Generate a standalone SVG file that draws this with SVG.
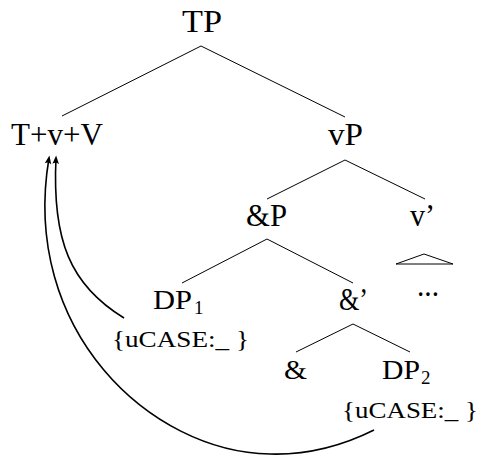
<svg xmlns="http://www.w3.org/2000/svg" width="481" height="457" viewBox="0 0 481 457">
<style>
text{font-family:"Liberation Serif","Times New Roman",serif;fill:#000}
.n{font-size:31px}
.s{font-size:28px}
.sub{font-size:19px}
.f{font-size:23px}
.e{stroke:#000;stroke-width:1;fill:none}
.a{stroke:#000;stroke-width:1.6;fill:none}
</style>
<defs>
<marker id="ah" viewBox="-8 -4 11 8" refX="0" refY="0" markerWidth="11" markerHeight="8" markerUnits="userSpaceOnUse" orient="auto">
<path d="M2.5,0 L-6,-3.3 Q-3.5,0 -6,3.3 Z" fill="#000"/>
</marker>
</defs>
<rect width="481" height="457" fill="#fff"/>
<g id="connectors">
<line class="e" x1="201" y1="46" x2="62" y2="116"/>
<line class="e" x1="201" y1="46" x2="345" y2="117"/>
<line class="e" x1="345" y1="160" x2="267" y2="199"/>
<line class="e" x1="345" y1="160" x2="425" y2="199"/>
<line class="e" x1="267" y1="239" x2="182" y2="283"/>
<line class="e" x1="267" y1="239" x2="353" y2="283"/>
<line class="e" x1="353" y1="324" x2="296" y2="352"/>
<line class="e" x1="353" y1="324" x2="410" y2="352"/>
<path class="a" d="M374,430 C340,447 305,455 270,454 C150,452 20,330 49,158" marker-end="url(#ah)"/>
<path class="a" d="M124,318 C70,285 52,240 56,158" marker-end="url(#ah)"/>
</g>
<g id="TP"><text class="n" x="182" y="32" textLength="40" lengthAdjust="spacingAndGlyphs">TP</text></g>
<g id="TvV"><text class="n" x="11" y="145" textLength="92" lengthAdjust="spacingAndGlyphs">T+v+V</text></g>
<g id="vP"><text class="n" x="328" y="145" textLength="35" lengthAdjust="spacingAndGlyphs">vP</text></g>
<g id="andP"><text class="n" x="246" y="226" textLength="41" lengthAdjust="spacingAndGlyphs">&amp;P</text></g>
<g id="vbar"><text class="n" x="410" y="226" textLength="25" lengthAdjust="spacingAndGlyphs">v’</text>
<polygon class="e" points="424,254 396,264 453,264"/>
<text class="n" x="417" y="296" textLength="22" lengthAdjust="spacingAndGlyphs">...</text></g>
<g id="DP1"><text class="s" x="153" y="309" textLength="39" lengthAdjust="spacingAndGlyphs">DP</text>
<text class="sub" x="194" y="314">1</text>
<text class="f" x="112" y="347" textLength="137" lengthAdjust="spacingAndGlyphs">{uCASE:_ }</text></g>
<g id="andbar"><text class="n" x="339" y="310" textLength="29" lengthAdjust="spacingAndGlyphs">&amp;’</text></g>
<g id="and"><text class="s" x="284" y="379" textLength="23" lengthAdjust="spacingAndGlyphs">&amp;</text></g>
<g id="DP2"><text class="s" x="382" y="379" textLength="38" lengthAdjust="spacingAndGlyphs">DP</text>
<text class="sub" x="421" y="384">2</text>
<text class="f" x="342" y="418" textLength="136" lengthAdjust="spacingAndGlyphs">{uCASE:_ }</text></g>
</svg>
